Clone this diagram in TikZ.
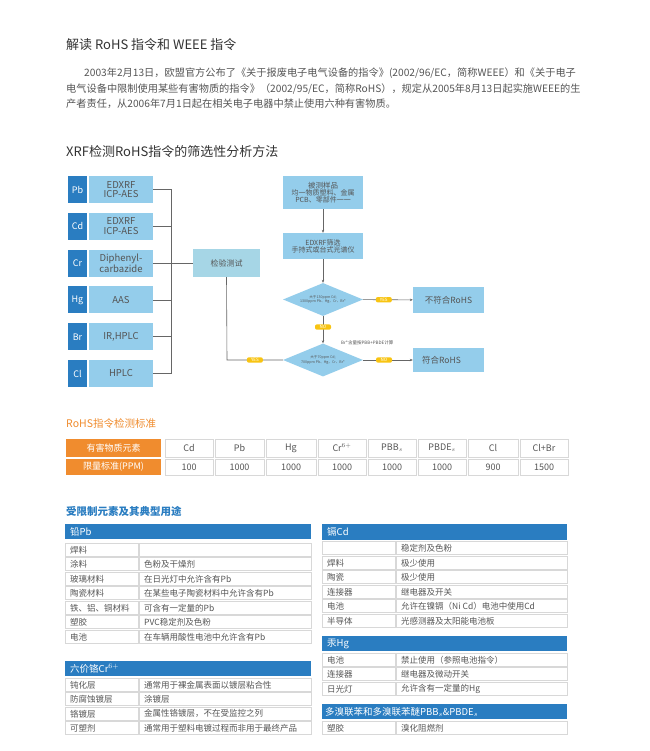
\documentclass[tikz,border=0pt]{standalone}
\usepackage{fontspec}
\setmainfont{Noto Sans CJK SC}
\usetikzlibrary{shapes.geometric,arrows.meta}
\definecolor{lb}{HTML}{94CDEB}
\definecolor{db}{HTML}{2A7DC1}
\definecolor{mb}{HTML}{A6D6E6}
\definecolor{yl}{HTML}{F8C412}
\definecolor{og}{HTML}{F08C2E}
\definecolor{tx}{HTML}{555555}
\definecolor{bd}{HTML}{D8D8D8}
\definecolor{ln}{HTML}{666666}
\newcommand\fs[1]{\fontsize{#1}{#1}\selectfont}
\tikzset{
 elem/.style={fill=db,text=white,minimum width=19pt,minimum height=27pt,inner sep=0,font=\fs{9}},
 meth/.style={fill=lb,text=tx,minimum width=64pt,minimum height=27pt,inner sep=0,align=center,font=\fs{9.5}},
 fbox/.style={fill=lb,text=tx,minimum width=80pt,inner sep=0,align=center,font=\fs{7}},
 dia/.style={diamond,fill=lb,text=tx,aspect=2.4,inner sep=0,minimum width=80pt,minimum height=33pt,align=center,font=\fs{3.6}},
 lab/.style={fill=yl,text=white,rounded corners=2pt,inner sep=1pt,minimum width=16pt,font=\fs{4.5}},
 conn/.style={draw=ln,line width=0.6pt},
 arr/.style={conn,-{Stealth[length=3pt,width=2.5pt]}},
 cellbd/.style={draw=bd,fill=white,line width=0.7pt},
 ct/.style={anchor=west,text=tx,font=\fs{8.5},inner sep=0},
 hdr/.style={fill=db},
 ht/.style={anchor=west,text=white,font=\fs{9.5},inner sep=0},
 para/.style={anchor=west,inner sep=0,text=tx,font=\fs{10.2}},
}
\newcommand\trow[6]{%
 \draw[cellbd] (#2,#5) rectangle ({#3-1},{#5+13});
 \draw[cellbd] (#3,#5) rectangle (#4,{#5+13});
 \node[ct] (#1a) at ({#2+5},{#5+6.8}) {#6};}
\begin{document}
\begin{tikzpicture}[x=1pt,y=-1pt]
\fill[white] (0,0) rectangle (649,751);
\useasboundingbox (0,0) rectangle (649,751);
% titles
\node[anchor=west,inner sep=0,text=black!80,font=\fs{13}] (t1) at (66,45) {解读 RoHS 指令和 WEEE 指令};
\node[para] (p1) at (84,73) {2003年2月13日，欧盟官方公布了《关于报废电子电气设备的指令》(2002/96/EC，简称WEEE）和《关于电子};
\node[para] (p2) at (66,89) {电气设备中限制使用某些有害物质的指令》（2002/95/EC，简称RoHS），规定从2005年8月13日起实施WEEE的生};
\node[para] (p3) at (66,104) {产者责任，从2006年7月1日起在相关电子电器中禁止使用六种有害物质。};
\node[anchor=west,inner sep=0,text=black!80,font=\fs{13}] (t2) at (66,152) {XRF检测RoHS指令的筛选性分析方法};
% element boxes
\coordinate (bus) at (171,0);
\foreach \n/\e/\m [count=\i from 0] in {pb/Pb/{EDXRF\\ICP-AES},cd/Cd/{EDXRF\\ICP-AES},cr/Cr/{Diphenyl-\\carbazide},hg/Hg/AAS,br/Br/{IR,HPLC},cl/Cl/HPLC}{
 \node[elem] (e\n) at (77.5,{189.5+36.8*\i}) {\e};
 \node[meth] (m\n) at (121,{189.5+36.8*\i}) {\m};
 \draw[conn] (m\n.east) -- (bus |- m\n.east);
}
\draw[conn] (bus |- mpb.east) -- (bus |- mcl.east);
\node[fill=mb,text=tx,minimum width=67pt,minimum height=28pt,inner sep=0,font=\fs{8}] (jy) at (226.5,263) {检验测试};
\draw[conn] (bus |- jy.west) -- (jy.west);
% right flow
\node[fbox,minimum height=33pt] (samp) at (323,192.5) {\fs{7.5}被测样品\\均一物质塑料、金属\\PCB、零部件一一};
\node[fbox,minimum height=26pt] (edx) at (323,246) {EDXRF筛选\\手持式或台式光谱仪};
\node[dia] (d1) at (323,299.5) {大于130ppm Cd;\\1300ppm Pb、Hg、Cr、Br*};
\node[dia] (d2) at (323,360) {大于70ppm Cd;\\700ppm Pb、Hg、Cr、Br*};
\node[fill=lb,text=tx,minimum width=71pt,minimum height=26pt,inner sep=0,font=\fs{8.5}] (bad) at (448.5,300) {不符合RoHS};
\node[fill=lb,text=tx,minimum width=71pt,minimum height=24pt,inner sep=0,font=\fs{8.5}] (ok) at (448.5,360) {\hspace*{-14pt}符合RoHS};
\draw[arr] (samp) -- (edx);
\draw[arr] (edx) -- (d1);
\draw[arr] (d1) -- node[lab,pos=0.4] (n1) {NO} (d2);
\draw[arr] (d1) -- node[lab,pos=0.42] (y1) {YES} (bad);
\draw[arr] (d2) -- node[lab,pos=0.42] (n2) {NO} (ok);
\coordinate (cnr) at (227,360);
\draw[conn] (jy.south) -- (cnr) -- node[lab,pos=0.5] (y2) {YES} (d2.west);
\node[anchor=west,inner sep=0,text=tx,font=\fs{4.5}] (brn) at (341,343) {Br*含量按PBB+PBDE计算};
% RoHS standard table
\node[anchor=west,inner sep=0,text=og,font=\fs{10.5}] (t3) at (66,423) {RoHS指令检测标准};
\fill[og] (66,439) rectangle (161,457);
\fill[og] (66,459) rectangle (161,475);
\node[text=white,font=\fs{9}] (h1) at (113.5,448) {有害物质元素};
\node[text=white,font=\fs{9}] (h2) at (113.5,467) {限量标准(PPM)};
\foreach \xa/\xb/\ta/\tb [count=\k] in {165/213/Cd/100,215/264/Pb/1000,266/316/Hg/1000,318/366/Cr$^{\fs{4}6+}$/1000,368/416/PBB$_{\fs{4}s}$/1000,418/466/PBDE$_{\fs{4}s}$/1000,468/518/Cl/900,520/568/Cl+Br/1500}{
 \draw[cellbd] (\xa,439) rectangle (\xb,457);
 \draw[cellbd] (\xa,459) rectangle (\xb,475);
 \node[text=tx,font=\fs{9},inner sep=0] (s\k) at ({(\xa+\xb)/2},448) {\ta};
 \node[text=tx,font=\fs{9},inner sep=0] (v\k) at ({(\xa+\xb)/2},467) {\tb};
}
% restricted
\node[anchor=west,inner sep=0,text=db,font=\bfseries\fs{10.5}] (t4) at (66,511) {受限制元素及其典型用途};
% Pb
\fill[hdr] (65,524) rectangle (311,539);
\node[ht] (hpb) at (70,531.5) {铅Pb};
\trow{pb1}{65}{139}{311}{543}{焊料}
\trow{pb2}{65}{139}{311}{557.5}{涂料}\node[ct] at (144,564.3) {色粉及干燥剂};
\trow{pb3}{65}{139}{311}{572}{玻璃材料}\node[ct] at (144,578.8) {在日光灯中允许含有Pb};
\trow{pb4}{65}{139}{311}{586.5}{陶瓷材料}\node[ct] at (144,593.3) {在某些电子陶瓷材料中允许含有Pb};
\trow{pb5}{65}{139}{311}{601}{铁、铝、铜材料}\node[ct] at (144,607.8) {可含有一定量的Pb};
\trow{pb6}{65}{139}{311}{615.5}{塑胶}\node[ct] at (144,622.3) {PVC稳定剂及色粉};
\trow{pb7}{65}{139}{311}{630}{电池}\node[ct] at (144,636.8) {在车辆用酸性电池中允许含有Pb};
% Cr
\fill[hdr] (65,661) rectangle (311,676);
\node[ht] (hcr) at (70,668.5) {六价铬Cr$^{\fs{4}6+}$};
\trow{cr1}{65}{139}{311}{678}{钝化层}\node[ct] at (144,684.8) {通常用于裸金属表面以镀层粘合性};
\trow{cr2}{65}{139}{311}{692.5}{防腐蚀镀层}\node[ct] at (144,699.3) {涂镀层};
\trow{cr3}{65}{139}{311}{707}{铬镀层}\node[ct] at (144,713.8) {金属性铬镀层，不在受监控之列};
\trow{cr4}{65}{139}{311}{721.5}{可塑剂}\node[ct] at (144,728.3) {通常用于塑料电镀过程而非用于最终产品};
% Cd
\fill[hdr] (322,524) rectangle (567,540);
\node[ht] (hcd) at (327,532) {镉Cd};
\trow{cd1}{322}{396}{567}{541.5}{}\node[ct] at (401,548.3) {稳定剂及色粉};
\trow{cd2}{322}{396}{567}{556}{焊料}\node[ct] at (401,562.8) {极少使用};
\trow{cd3}{322}{396}{567}{570.5}{陶瓷}\node[ct] at (401,577.3) {极少使用};
\trow{cd4}{322}{396}{567}{585}{连接器}\node[ct] at (401,591.8) {继电器及开关};
\trow{cd5}{322}{396}{567}{599.5}{电池}\node[ct] at (401,606.3) {允许在镍镉（Ni Cd）电池中使用Cd};
\trow{cd6}{322}{396}{567}{614}{半导体}\node[ct] at (401,620.8) {光感测器及太阳能电池板};
% Hg
\fill[hdr] (322,636) rectangle (567,651);
\node[ht] (hhg) at (327,643.5) {汞Hg};
\trow{hg1}{322}{396}{567}{653}{电池}\node[ct] at (401,659.8) {禁止使用（参照电池指令）};
\trow{hg2}{322}{396}{567}{667.5}{连接器}\node[ct] at (401,674.3) {继电器及微动开关};
\trow{hg3}{322}{396}{567}{682}{日光灯}\node[ct] at (401,688.8) {允许含有一定量的Hg};
% PBB
\fill[hdr] (322,704) rectangle (567,719);
\node[ht] (hpbb) at (325,711.5) {多溴联苯和多溴联苯醚PBB$_{\fs{4}s}$\&PBDE$_{\fs{4}s}$};
\trow{pbb1}{322}{396}{567}{721}{塑胶}\node[ct] at (401,727.8) {溴化阻燃剂};
\end{tikzpicture}
\end{document}
